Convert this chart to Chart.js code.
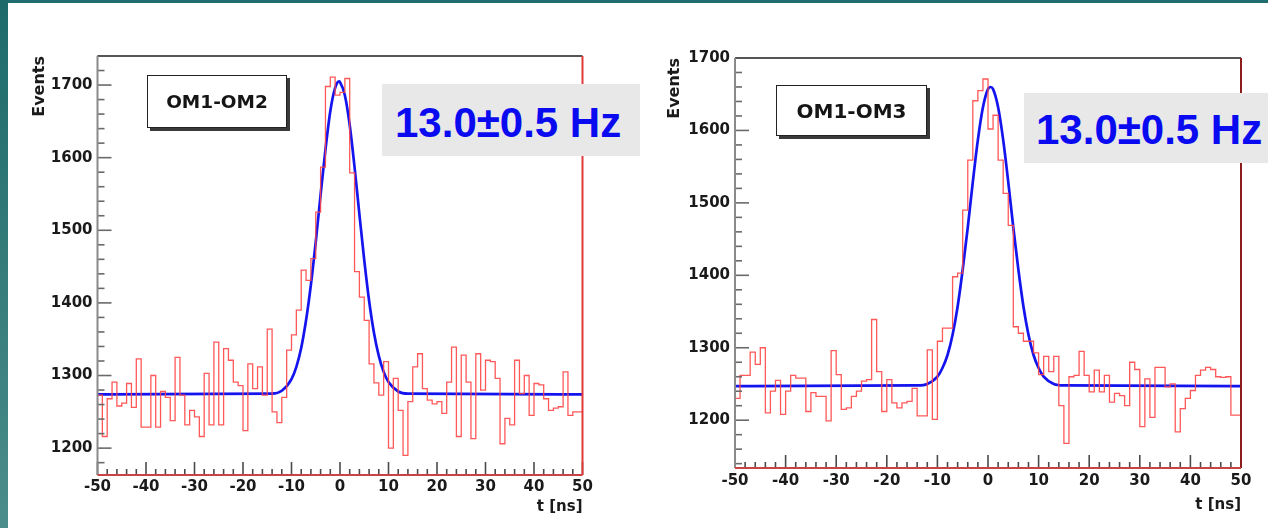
<!DOCTYPE html>
<html>
<head>
<meta charset="utf-8">
<script src="https://cdn.jsdelivr.net/npm/chart.js@4.4.0/dist/chart.umd.min.js"></script>
<style>
html,body{margin:0;padding:0;width:1268px;height:528px;overflow:hidden;background:#fff;}
#stripL{position:absolute;left:0;top:0;width:8px;height:528px;background:linear-gradient(#1e6a6b,#4b8d8a);}
#stripT{position:absolute;left:0;top:0;width:1268px;height:3px;background:#1f6d6e;}
canvas{position:absolute;top:0;}
#c1{left:0;}
#c2{left:640px;}
.pave{position:absolute;box-sizing:border-box;background:#fff;border:1px solid #222;box-shadow:3px 3px 0 #3a3a3a;font-family:"DejaVu Sans";font-weight:bold;color:#151515;display:flex;align-items:center;justify-content:center;}
.rate{position:absolute;box-sizing:border-box;background:#e8e8e8;color:#0a0af0;font-family:"Liberation Sans";font-weight:bold;font-size:42px;white-space:nowrap;overflow:hidden;}
</style>
</head>
<body>
<div id="stripT"></div>
<canvas id="c1" width="640" height="528"></canvas>
<canvas id="c2" width="628" height="528"></canvas>
<div id="stripL"></div>
<div class="pave" id="p1" style="left:147px;top:75px;width:140px;height:53px;font-size:18.5px;">OM1-OM2</div>
<div class="pave" id="p2" style="left:776px;top:85px;width:151px;height:51px;font-size:20px;">OM1-OM3</div>
<div class="rate" id="r1" style="left:382px;top:84px;width:258px;height:72px;line-height:67px;padding-top:5px;padding-left:13px;">13.0±0.5 Hz</div>
<div class="rate" id="r2" style="left:1024px;top:93px;width:244px;height:70px;line-height:67px;padding-top:3px;padding-left:12px;">13.0±0.5 Hz</div>
<script>
// ---- data ----
const binStart = [-50,-49,-48,-47,-46,-45,-44,-43,-42,-41,-40,-39,-38,-37,-36,-35,-34,-33,-32,-31,
  -30,-29,-28,-27,-26,-25,-24,-23,-22,-21,-20,-19,-18,-17,-16,-15,-14,-13,-12,-11,
  -10,-9,-8,-7,-6,-5,-4,-3,-2,-1,0,1,2,3,4,5,6,7,8,9,
  10,11,12,13,14,15,16,17,18,19,20,21,22,23,24,25,26,27,28,29,
  30,31,32,33,34,35,36,37,38,39,40,41,42,43,44,45,46,47,48,49];

const countsOM12 = [1244,1273,1216,1268,1291,1258,1262,1289,1256,1323,1229,1229,1300,1229,1278,1270,1238,1325,1273,1232,
  1252,1243,1216,1303,1232,1346,1232,1337,1321,1291,1286,1224,1316,1282,1312,1273,1364,1250,1235,1270,
  1335,1356,1390,1445,1431,1461,1525,1587,1698,1711,1686,1690,1709,1579,1443,1408,1376,1316,1290,1273,
  1319,1200,1296,1252,1190,1264,1312,1330,1282,1266,1261,1264,1248,1291,1339,1216,1328,1291,1213,1330,
  1280,1321,1319,1296,1206,1241,1232,1321,1275,1300,1245,1289,1287,1268,1252,1255,1257,1305,1245,1250];

const countsOM13 = [1293,1230,1262,1262,1294,1277,1300,1210,1240,1255,1208,1240,1262,1258,1258,1212,1238,1233,1233,1199,
  1296,1263,1215,1217,1233,1240,1254,1256,1339,1267,1212,1256,1224,1217,1224,1226,1244,1206,1206,1297,
  1201,1309,1327,1327,1398,1403,1490,1559,1641,1655,1671,1602,1621,1559,1513,1469,1329,1320,1309,1309,
  1293,1263,1288,1267,1288,1220,1168,1260,1262,1295,1262,1239,1269,1239,1262,1225,1237,1234,1220,1280,
  1270,1191,1257,1204,1273,1273,1246,1250,1184,1216,1230,1241,1262,1269,1273,1270,1260,1259,1260,1207];

// fitted curves
const fitT_OM12 = [-50,-14,-12,-10,-9,-8,-7,-6,-5,-4,-3,-2,-1,-0.2,0,1,2,3,4,5,6,7,8,9,10,12,14,50];
const fitV_OM12 = [1274,1275,1279,1295,1312,1338,1376,1425,1484,1549,1611,1664,1696,1705,1704,1686,1645,1587,1522,1459,1403,1359,1327,1305,1291,1278,1275,1274];

const fitT_OM13 = [-50,-14,-12,-10,-9,-8,-7,-6,-5,-4,-3,-2,-1,0,0.5,1,2,3,4,5,6,7,8,9,10,11,13,15,50];
const fitV_OM13 = [1247,1248,1250,1260,1272,1290,1318,1357,1408,1466,1529,1587,1632,1657,1660,1657,1632,1587,1529,1466,1408,1357,1318,1290,1272,1260,1250,1248,1247];

const xTickValues = [-50,-40,-30,-20,-10,0,10,20,30,40,50];
const yTickValues = [1200,1300,1400,1500,1600,1700];

const yRangeOM12 = [1163, 1740];
const yRangeOM13 = [1134, 1700];

// ---- drawing ----
Chart.defaults.font.family = 'DejaVu Sans';
Chart.defaults.color = '#1a1a1a';

const rootFrame = {
  id: 'rootFrame',
  afterDatasetsDraw(chart, args, opts) {
    const {ctx, chartArea, scales} = chart;
    const {left, right, top, bottom} = chartArea;
    const x = scales.x, y = scales.y;
    ctx.save();
    ctx.strokeStyle = '#6a6a6a';
    ctx.lineWidth = 1.6;
    for (let v = Math.ceil(y.min / 20) * 20; v <= y.max; v += 20) {
      const py = y.getPixelForValue(v);
      const len = (v % 100 === 0) ? 14 : 7;
      ctx.beginPath(); ctx.moveTo(left, py); ctx.lineTo(left + len, py); ctx.stroke();
    }
    ctx.strokeStyle = '#4a4a4a';
    for (let t = x.min; t <= x.max; t += 2) {
      const px = x.getPixelForValue(t);
      const len = (t % 10 === 0) ? 13 : 6;
      ctx.beginPath(); ctx.moveTo(px, bottom); ctx.lineTo(px, bottom - len); ctx.stroke();
    }
    ctx.lineWidth = 2;
    ctx.strokeStyle = '#555';
    ctx.beginPath(); ctx.moveTo(left, top); ctx.lineTo(right, top); ctx.stroke();
    ctx.strokeStyle = '#8a8a8a';
    ctx.beginPath(); ctx.moveTo(left, top); ctx.lineTo(left, bottom); ctx.stroke();
    ctx.strokeStyle = opts.rightColor;
    ctx.beginPath(); ctx.moveTo(right, top); ctx.lineTo(right, bottom); ctx.stroke();
    ctx.strokeStyle = opts.bottomColor;
    ctx.beginPath(); ctx.moveTo(left, bottom); ctx.lineTo(right, bottom); ctx.stroke();
    ctx.restore();
  }
};

function makeChart(id, counts, fitT, fitV, yRange, L) {
  const hist = binStart.map((t, i) => ({x: t, y: counts[i]}));
  hist.push({x: xTickValues[xTickValues.length - 1], y: counts[counts.length - 1]});
  const fit = fitT.map((t, i) => ({x: t, y: fitV[i]}));
  return new Chart(document.getElementById(id), {
    type: 'line',
    data: {
      datasets: [
        {data: hist, stepped: 'after', borderColor: 'rgba(255,70,70,0.9)', borderWidth: 1.3, pointRadius: 0, fill: false},
        {data: fit, borderColor: '#1414ee', borderWidth: 2.7, pointRadius: 0, fill: false, cubicInterpolationMode: 'monotone'}
      ]
    },
    options: {
      responsive: false,
      animation: false,
      events: [],
      layout: {padding: {left: L.padLeft, top: L.padTop, right: L.padRight, bottom: L.padBottom}},
      plugins: {legend: {display: false}, tooltip: {enabled: false}, rootFrame: {rightColor: L.rightColor, bottomColor: L.bottomColor}},
      scales: {
        x: {
          type: 'linear', min: xTickValues[0], max: xTickValues[xTickValues.length - 1],
          grid: {display: false, drawTicks: false, tickLength: 0},
          border: {display: false},
          afterBuildTicks: s => { s.ticks = xTickValues.map(v => ({value: v})); },
          afterFit: s => { s.height = L.xHeight; },
          ticks: {autoSkip: false, maxRotation: 0, padding: L.xPad, font: {size: 15, weight: 'bold'}, color: '#1a1a1a', callback: v => String(v)},
          title: {display: true, text: 't [ns]', align: 'end', font: {size: 15, weight: 'bold'}, color: '#1a1a1a', padding: {top: 4, bottom: 4}}
        },
        y: {
          type: 'linear', min: yRange[0], max: yRange[1],
          grid: {display: false, drawTicks: false, tickLength: 0},
          border: {display: false},
          afterBuildTicks: s => { s.ticks = yTickValues.map(v => ({value: v})); },
          afterFit: s => { s.width = L.yWidth; },
          ticks: {autoSkip: false, padding: 5, font: {size: 15, weight: 'bold'}, color: '#1a1a1a', callback: v => String(v)},
          title: {display: true, text: 'Events', align: 'end', font: {size: 16, weight: 'bold'}, color: '#1a1a1a', padding: {top: 4, bottom: 4}}
        }
      }
    },
    plugins: [rootFrame]
  });
}

makeChart('c1', countsOM12, fitT_OM12, fitV_OM12, yRangeOM12,
  {padLeft: 26.4, yWidth: 71.1, padTop: 56, padRight: 57.5, padBottom: 7.5, xHeight: 45.5, xPad: 3, rightColor: '#e03a3a', bottomColor: '#c84444'});
makeChart('c2', countsOM13, fitT_OM13, fitV_OM13, yRangeOM13,
  {padLeft: 21.4, yWidth: 73.6, padTop: 58, padRight: 27, padBottom: 10, xHeight: 50, xPad: 4, rightColor: '#8b1c1c', bottomColor: '#c84444'});
</script>
</body>
</html>
